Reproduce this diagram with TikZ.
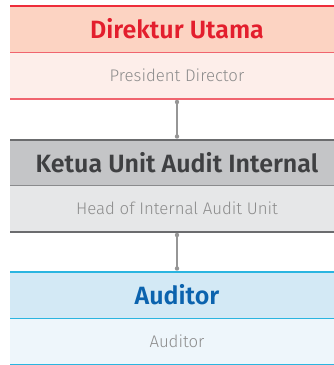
\documentclass[tikz,border=0pt]{standalone}
\usepackage{fontspec}
\setmainfont{Fira Sans}[BoldFont={Fira Sans SemiBold}]
\newfontfamily\sublight{Fira Sans Light}
\usetikzlibrary{positioning}
% palette
\definecolor{redTitle}{HTML}{E31E2D}
\definecolor{redHead}{HTML}{FCD3C2}
\definecolor{redSub}{HTML}{FDEEEA}
\definecolor{redRule}{HTML}{EE2C3A}
\definecolor{redSoft}{HTML}{F0646E}
\definecolor{grayTitle}{HTML}{3F4042}
\definecolor{grayHead}{HTML}{C4C5C7}
\definecolor{graySub}{HTML}{E6E7E8}
\definecolor{grayRule}{HTML}{6B6C6E}
\definecolor{graySoft}{HTML}{8A8B8D}
\definecolor{blueTitle}{HTML}{0B63AE}
\definecolor{blueHead}{HTML}{D3E9F5}
\definecolor{blueSub}{HTML}{EEF6FB}
\definecolor{blueRule}{HTML}{2AB5E0}
\definecolor{subText}{HTML}{8C8C8C}
\definecolor{linkGray}{HTML}{969696}
\tikzset{
  head/.style={minimum width=334pt, minimum height=46pt, inner sep=0pt, outer sep=0pt,
    font=\fontsize{25}{28}\selectfont\bfseries},
  sub/.style={minimum width=334pt, minimum height=46.5pt, inner sep=0pt, outer sep=0pt,
    text=subText, font=\sublight\fontsize{16.8}{20}\selectfont},
  rule/.style={line width=2pt},
  midrule/.style={line width=1pt},
  link/.style={draw=linkGray, line width=1.2pt, shorten <=3.5pt, shorten >=3.5pt},
  knob/.style={fill=linkGray},
}

\begin{document}
\begin{tikzpicture}[x=1pt,y=1pt]
\useasboundingbox (0,0) rectangle (333,-365);
% boxes
\node[head, fill=redHead, text=redTitle] (dirut) at (177,-29) {Direktur Utama};
\node[sub, fill=redSub, below=0pt of dirut] (dirutEn) {President Director};
\node[head, fill=grayHead, text=grayTitle, below=41pt of dirutEn] (kauai) {Ketua Unit Audit Internal};
\node[sub, fill=graySub, below=0pt of kauai] (kauaiEn) {Head of Internal Audit Unit};
\node[head, fill=blueHead, text=blueTitle, below=40pt of kauaiEn] (aud) {Auditor};
\node[sub, fill=blueSub, below=0pt of aud] (audEn) {Auditor};
% rules
\draw[rule, redRule] (dirut.north west) -- (dirut.north east);
\draw[midrule, redSoft] (dirut.south west) -- (dirut.south east);
\draw[rule, redSoft] (dirutEn.south west) -- (dirutEn.south east);
\draw[rule, grayRule] (kauai.north west) -- (kauai.north east);
\draw[midrule, graySoft] (kauai.south west) -- (kauai.south east);
\draw[rule, grayRule] (kauaiEn.south west) -- (kauaiEn.south east);
\draw[rule, blueRule] (aud.north west) -- (aud.north east);
\draw[midrule, blueRule] (aud.south west) -- (aud.south east);
\draw[rule, blueRule] (audEn.south west) -- (audEn.south east);
% links with end dots
\draw[link] (dirutEn.south) -- (kauai.north);
\fill[knob] ([yshift=-3.5pt]dirutEn.south) circle (2.2pt);
\fill[knob] ([yshift=3pt]kauai.north) circle (2.2pt);
\draw[link] (kauaiEn.south) -- (aud.north);
\fill[knob] ([yshift=-3pt]kauaiEn.south) circle (2.2pt);
\fill[knob] ([yshift=3.5pt]aud.north) circle (2.2pt);
\end{tikzpicture}
\end{document}
